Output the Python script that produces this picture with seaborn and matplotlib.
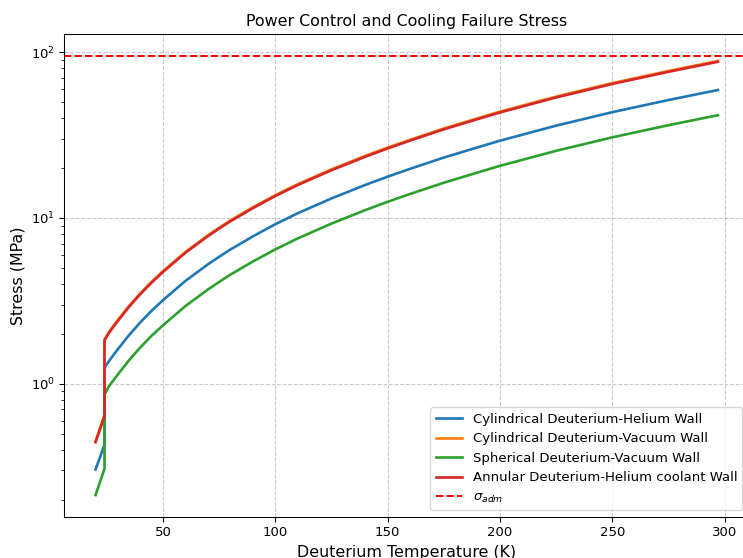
import numpy as np
import pandas as pd
from matplotlib import pyplot as plt
import seaborn as sns

# temperatures (K), the step at 24 K shows up twice
temps = [20, 22, 24, 24, 26, 28, 30, 35, 40, 45, 50, 60, 70, 75, 80, 90, 100,
         110, 125, 140, 150, 160, 175, 190, 200, 225, 250, 275, 297]

# stresses (MPa)
cyl_helium = [0.304, 0.36, 0.43,
              1.25, 1.37, 1.49, 1.62, 1.97, 2.35, 2.76, 3.19, 4.17, 5.25, 5.83, 6.45, 7.74, 9.17,
              10.68, 13.12, 15.82, 17.76, 19.8, 23.15, 26.67, 29.27, 36.07, 43.5, 51.5, 59.2]
cyl_vacuum = [0.45, 0.54, 0.65,
              1.85, 2.05, 2.24, 2.43, 2.96, 3.52, 4.13, 4.78, 6.24, 7.86, 8.73, 9.66, 11.6, 13.73,
              16.0, 19.65, 23.69, 26.6, 29.65, 34.67, 39.94, 43.84, 54.02, 65.15, 77.13, 88.65]
sph_vacuum = [0.213, 0.255, 0.307,
              0.86, 0.966, 1.05, 1.14, 1.39, 1.66, 1.95, 2.25, 2.94, 3.70, 4.11, 4.55, 5.46, 6.46,
              7.53, 9.25, 11.15, 12.52, 13.96, 16.32, 18.8, 20.64, 25.43, 30.67, 36.3, 41.7]
ann_helium = [0.444, 0.53, 0.642,
              1.83, 2.03, 2.21, 2.40, 2.92, 3.48, 4.08, 4.72, 6.17, 7.77, 8.63, 9.55, 11.46, 13.57,
              15.81, 19.42, 23.41, 26.28, 29.3, 34.26, 39.47, 43.32, 53.38, 64.38, 76.22, 87.6]
sigma_adm = 95

labels = ['Cylindrical Deuterium-Helium Wall',
          'Cylindrical Deuterium-Vacuum Wall',
          'Spherical Deuterium-Vacuum Wall',
          'Annular Deuterium-Helium coolant Wall']
series = [cyl_helium, cyl_vacuum, sph_vacuum, ann_helium]
colors = sns.color_palette('tab10', 4)

fig = plt.figure(figsize=(743/95, 558/95), dpi=95)
ax = fig.add_axes([64.4/743, 41/558, 684.6/743, 483/558])

for vals, lab, c in zip(series, labels, colors):
    sns.lineplot(x=temps, y=vals, label=lab, color=c, lw=2,
                 estimator=None, sort=False, ax=ax)

ax.axhline(sigma_adm, color='red', linestyle='--', lw=1.5, label=r'$\sigma_{adm}$')
ax.set_yscale('log')

ax.set_title('Power Control and Cooling Failure Stress')
ax.set_xlabel('Deuterium Temperature (K)', fontsize=12)
ax.set_ylabel('Stress (MPa)', fontsize=12)
ax.grid(True, linestyle='--', alpha=0.7)
ax.legend(loc='lower right')

plt.savefig('out.png', dpi=95)
